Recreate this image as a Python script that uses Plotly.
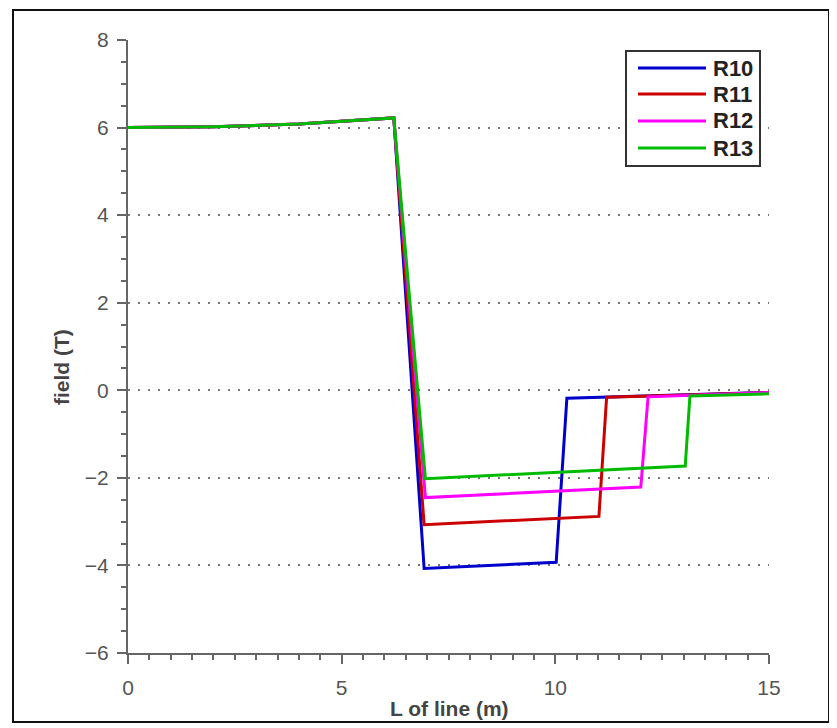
import plotly.graph_objects as go

# ---- data ----
names = ["R10", "R11", "R12", "R13"]
colors = ["#0000CC", "#CC0000", "#FF00FF", "#00BB00"]

x_r10 = [0, 2, 4, 6.22, 6.93, 10.02, 10.27, 15]
y_r10 = [6.0, 6.02, 6.08, 6.22, -4.07, -3.93, -0.18, -0.05]

x_r11 = [0, 2, 4, 6.22, 6.93, 11.02, 11.2, 15]
y_r11 = [6.0, 6.02, 6.08, 6.22, -3.07, -2.88, -0.16, -0.05]

x_r12 = [0, 2, 4, 6.22, 6.96, 12.0, 12.17, 15]
y_r12 = [6.0, 6.02, 6.08, 6.22, -2.45, -2.21, -0.15, -0.05]

x_r13 = [0, 2, 4, 6.22, 6.96, 13.04, 13.15, 15]
y_r13 = [6.0, 6.02, 6.08, 6.22, -2.02, -1.73, -0.13, -0.08]

xs = [x_r10, x_r11, x_r12, x_r13]
ys = [y_r10, y_r11, y_r12, y_r13]

x_ticks = [0, 5, 10, 15]
y_ticks = [-6, -4, -2, 0, 2, 4, 6, 8]

x_title = "L of line (m)"
y_title = "field (T)"

# ---- figure ----
fig = go.Figure()
for n, c, x, y in zip(names, colors, xs, ys):
    fig.add_trace(go.Scatter(x=x, y=y, mode="lines", name=n,
                             line=dict(color=c, width=3), showlegend=False))

OFF = 8  # page body margin
W, H = 837 - OFF, 728 - OFF
L, R, T, B = 128 - OFF, 837 - 769, 40 - OFF, 728 - 653
pw, ph = W - L - R, H - T - B

def px(xp):
    return (xp - OFF - L) / pw

def py(yp):
    return (H - B - (yp - OFF)) / ph

axis_col = "#666666"
tick_font = dict(family="Liberation Sans, Arial, sans-serif", size=21, color="#555555")

fig.update_layout(
    width=W, height=H,
    margin=dict(l=L, r=R, t=T, b=B),
    paper_bgcolor="white", plot_bgcolor="white",
    xaxis=dict(range=[0, 15], tickvals=x_ticks, ticks="outside", ticklen=9,
               tickwidth=2, tickcolor=axis_col, showline=True, linecolor=axis_col,
               linewidth=2, showgrid=False, zeroline=False, tickfont=tick_font,
               ticklabelstandoff=6,
               minor=dict(dtick=0.5, ticks="outside", ticklen=5, tickwidth=1.5,
                          tickcolor=axis_col, showgrid=False)),
    yaxis=dict(range=[-6, 8], tickvals=y_ticks, ticks="outside", ticklen=9,
               tickwidth=2, tickcolor=axis_col, showline=True, linecolor=axis_col,
               linewidth=2, showgrid=True, gridcolor="#777777", gridwidth=2,
               griddash="2px,8px", zeroline=False, tickfont=tick_font,
               ticklabelstandoff=4,
               minor=dict(dtick=0.5, ticks="outside", ticklen=5, tickwidth=1.5,
                          tickcolor=axis_col, showgrid=False)),
)

# outer frame
fig.add_shape(type="rect", xref="paper", yref="paper",
              x0=px(13), x1=px(829), y0=py(722), y1=py(10),
              line=dict(color="#111111", width=2), layer="below")

# axis titles
title_font = dict(family="Liberation Sans, Arial, sans-serif", size=21, color="#444444")
fig.add_annotation(text="<b>" + x_title + "</b>", xref="paper", yref="paper",
                   x=px(449), y=py(708), showarrow=False, font=title_font,
                   xanchor="center", yanchor="middle")
fig.add_annotation(text="<b>" + y_title + "</b>", xref="paper", yref="paper",
                   x=px(61), y=py(367), showarrow=False, font=title_font,
                   textangle=-90, xanchor="center", yanchor="middle")

# legend box
fig.add_shape(type="rect", xref="paper", yref="paper",
              x0=px(626), x1=px(760), y0=py(166), y1=py(51),
              line=dict(color="#333333", width=2), fillcolor="white")
leg_y = [68, 94, 121, 148]
for n, c, yy in zip(names, colors, leg_y):
    fig.add_shape(type="line", xref="paper", yref="paper",
                  x0=px(638), x1=px(706), y0=py(yy), y1=py(yy),
                  line=dict(color=c, width=3))
    fig.add_annotation(text="<b>" + n + "</b>", xref="paper", yref="paper",
                       x=px(711), y=py(yy), showarrow=False,
                       xanchor="left", yanchor="middle",
                       font=dict(family="Liberation Sans, Arial, sans-serif",
                                 size=22, color="#222222"))

fig.write_html("out.html")
